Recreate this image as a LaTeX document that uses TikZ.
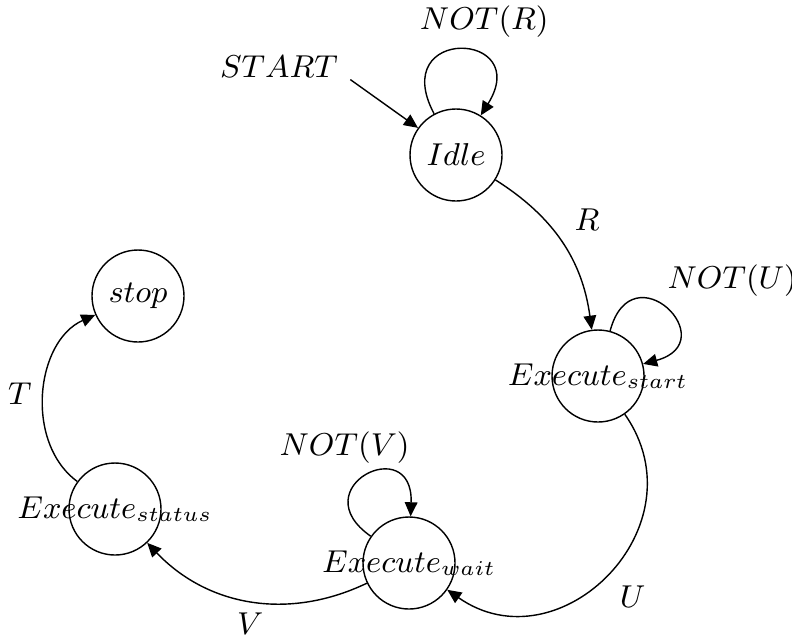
\documentclass[tikz,border=0pt]{standalone}
\usetikzlibrary{arrows.meta}

\begin{document}
\begin{tikzpicture}[
    every node/.style={font=\small},
    state/.style={circle, draw, thin, minimum size=0.92cm, inner sep=0pt},
    trans/.style={thin, -{Triangle[length=4pt, width=3.6pt]}},
  ]
  \useasboundingbox (0,0) rectangle (7.92,6.40);
  % Estados (texto maior que o círculo, por isso vai no label)
  \node[state, label={center:$Idle$}] (idle) at (4.56,4.85) {};
  \node[state, label={center:$Execute_{start}$}] (estart) at (5.98,2.64) {};
  \node[state, label={center:$Execute_{wait}$}] (ewait) at (4.09,0.77) {};
  \node[state, label={center:$Execute_{status}$}] (estatus) at (1.15,1.31) {};
  \node[state, label={center:$stop$}] (stop) at (1.38,3.44) {};
  % Entrada
  \node (start) at (2.79,5.73) {$START$};
  \draw[trans] (start.-10) -- (idle);
  % Transições
  \draw[trans] (idle) to[bend left=25] node[above right] {$R$} (estart);
  \draw[trans] (estart) to[out=-55, in=-35, looseness=1.4] node[below right] {$U$} (ewait);
  \draw[trans] (ewait) to[bend left=36] node[below] {$V$} (estatus);
  \draw[trans] (estatus) to[bend left=60] node[left] {$T$} (stop);
  % Laços
  \draw[trans] (idle) to[out=118, in=58, distance=1cm]
    node[above, xshift=7pt] {$NOT(R)$} (idle);
  \draw[trans] (estart) to[out=75, in=15, distance=0.85cm]
    node[above right, xshift=-3pt] {$NOT(U)$} (estart);
  \draw[trans] (ewait) to[out=145, in=88, distance=0.85cm]
    node[above, xshift=-6pt] {$NOT(V)$} (ewait);
\end{tikzpicture}
\end{document}
